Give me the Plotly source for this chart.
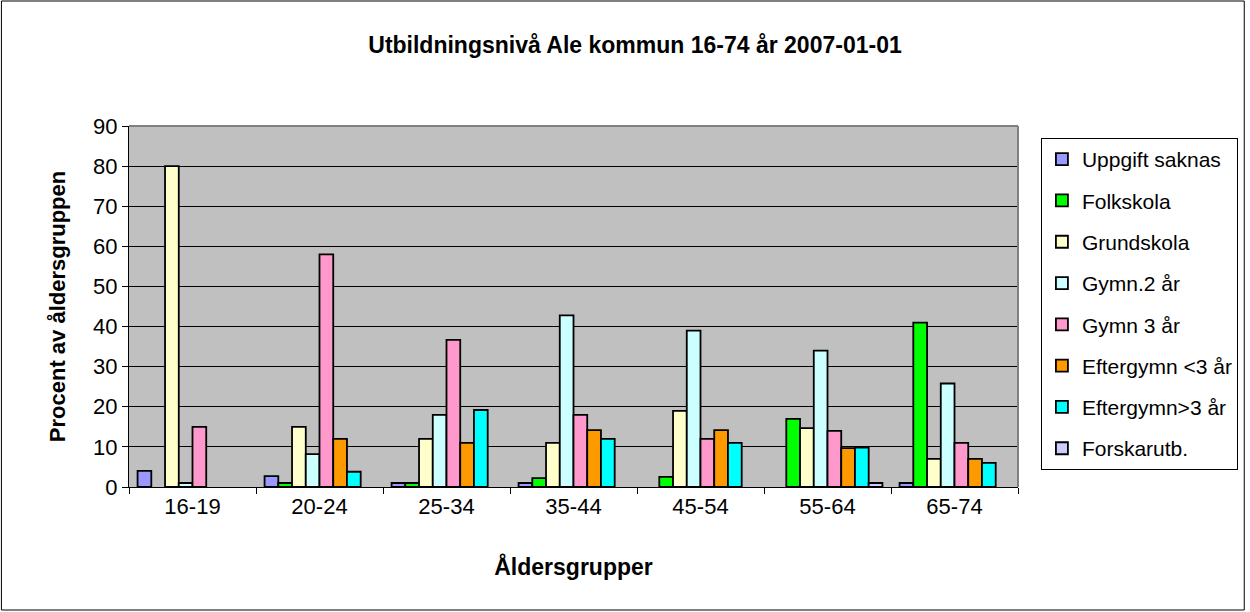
import plotly.graph_objects as go

categories = ["16-19", "20-24", "25-34", "35-44", "45-54", "55-64", "65-74"]

series_names = ["Uppgift saknas", "Folkskola", "Grundskola", "Gymn.2 år",
                "Gymn 3 år", "Eftergymn <3 år", "Eftergymn>3 år", "Forskarutb."]

uppgift_saknas = [4, 2.7, 1, 1, 0, 0, 1]
folkskola = [0, 1, 1, 2.2, 2.5, 17, 41]
grundskola = [80, 15, 12, 11, 19, 14.7, 7]
gymn2 = [1, 8.2, 18, 42.8, 39, 34, 25.8]
gymn3 = [15, 58, 36.7, 18, 12, 14, 11]
eftergymn_lt3 = [0, 12, 11, 14.2, 14.2, 9.7, 7]
eftergymn_gt3 = [0, 3.8, 19.2, 12, 11, 9.8, 6]
forskarutb = [0, 0, 0, 0, 0, 1, 0]

series_values = [uppgift_saknas, folkskola, grundskola, gymn2, gymn3,
                 eftergymn_lt3, eftergymn_gt3, forskarutb]
colors = ["#9999FF", "#00FF00", "#FFFFCC", "#CCFFFF", "#FF99CC",
          "#FF9900", "#00FFFF", "#CCCCFF"]

y_ticks = list(range(0, 91, 10))

fig = go.Figure()
for i, (name, vals, col) in enumerate(zip(series_names, series_values, colors)):
    fig.add_trace(go.Bar(
        x=categories, y=[v if v else None for v in vals], name=name,
        legendgroup=f"g{i}",
        marker=dict(color=col, line=dict(color="black", width=1.8)),
    ))

FONT = "Liberation Sans, Arial, sans-serif"
W, H = 1250, 612
ml, mr, mt, mb = 129, 229, 126, 125
pw, ph = W - ml - mr, H - mt - mb

fig.update_layout(
    width=W, height=H,
    margin=dict(l=ml, r=mr, t=mt, b=mb),
    paper_bgcolor="white",
    plot_bgcolor="#C0C0C0",
    barmode="group",
    bargap=0.135,
    bargroupgap=0,
    font=dict(family=FONT, color="black", size=22),
    title=dict(text="<b>Utbildningsnivå Ale kommun 16-74 år 2007-01-01</b>",
               x=0.508, xref="container", xanchor="center",
               y=1 - 45 / H, yref="container", yanchor="middle",
               font=dict(family=FONT, size=23, color="black")),
    xaxis=dict(
        type="category", tickson="boundaries", ticks="outside", ticklen=6,
        tickcolor="black", showline=True, linecolor="black", linewidth=1,
        showgrid=False, tickfont=dict(size=22),
        title=dict(text="<b>Åldersgrupper</b>", font=dict(size=23), standoff=40),
    ),
    yaxis=dict(
        range=[0, 90], tickvals=y_ticks, ticks="outside", ticklen=6,
        tickcolor="black", showline=True, linecolor="black", linewidth=1,
        showgrid=True, gridcolor="black", gridwidth=1, zeroline=False,
        tickfont=dict(size=22),
        title=dict(text="<b>Procent av åldersgruppen</b>", font=dict(size=22), standoff=21),
    ),
    legend=dict(
        x=(1044 - ml) / pw, xanchor="left", y=1 - (138 - mt) / ph, yanchor="top",
        bordercolor="black", borderwidth=1, bgcolor="white",
        font=dict(family=FONT, size=21), tracegroupgap=11,
        traceorder="grouped", itemwidth=30,
    ),
    shapes=[
        dict(type="line", xref="paper", yref="paper", x0=0, x1=1, y0=1, y1=1,
             line=dict(color="#808080", width=2)),
        dict(type="line", xref="paper", yref="paper", x0=1, x1=1, y0=0, y1=1,
             line=dict(color="#808080", width=2)),
        dict(type="rect", xref="paper", yref="paper",
             x0=-(ml - 1) / pw, x1=1 + (mr - 2) / pw,
             y0=-(mb - 2) / ph, y1=1 + (mt - 1) / ph,
             line=dict(color="black", width=1)),
    ],
)

fig.write_html("out.html", config={"displayModeBar": False},
               post_script="document.body.style.margin='0';document.body.style.overflow='hidden';")
